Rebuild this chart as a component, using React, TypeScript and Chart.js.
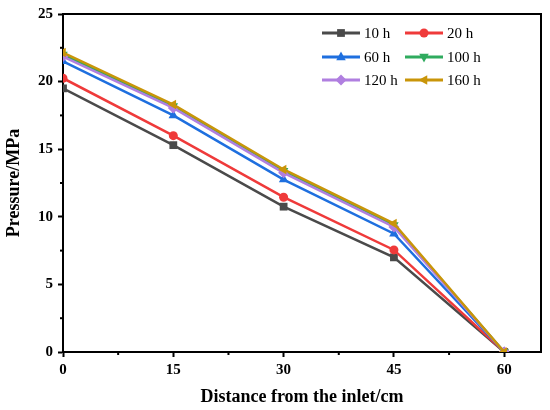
import React, { useEffect, useRef } from "react";
import { Chart, registerables } from "chart.js";

Chart.register(...registerables);

const distances = [0, 15, 30, 45, 60];
const seriesLabels = ["10 h", "20 h", "60 h", "100 h", "120 h", "160 h"];
const p10h = [19.5, 15.3, 10.75, 7.0, 0];
const p20h = [20.25, 16.0, 11.45, 7.55, 0];
const p60h = [21.5, 17.5, 12.75, 8.75, 0];
const p100h = [22.0, 18.2, 13.4, 9.4, 0];
const p120h = [21.85, 18.05, 13.25, 9.25, 0];
const p160h = [22.15, 18.3, 13.5, 9.5, 0];
const xTicks = [0, 15, 30, 45, 60];
const yTicks = [0, 5, 10, 15, 20, 25];
const xMinor = [7.5, 22.5, 37.5, 52.5];
const yMinor = [2.5, 7.5, 12.5, 17.5, 22.5];

const seriesValues = [p10h, p20h, p60h, p100h, p120h, p160h];
const colors = ["#4a4a4a", "#ef3a3a", "#1e6fdf", "#2fab5e", "#b07fe0", "#c99509"];
const styles = ["rect", "circle", "triangle", "triangle", "rectRot", "triangle"];
const rotations = [0, 0, 0, 180, 0, -90];
const radii = [5.5, 4.5, 5.5, 5.5, 5.5, 5.5];

const SERIF = "'Liberation Serif', 'Times New Roman', serif";

function drawMarker(ctx: CanvasRenderingContext2D, style: string, rot: number, x: number, y: number, r: number) {
  ctx.save();
  ctx.translate(x, y);
  ctx.rotate((rot * Math.PI) / 180);
  ctx.beginPath();
  if (style === "rect") {
    const s = Math.SQRT1_2 * r;
    ctx.rect(-s, -s, 2 * s, 2 * s);
  } else if (style === "circle") {
    ctx.arc(0, 0, r, 0, Math.PI * 2);
  } else if (style === "triangle") {
    ctx.moveTo(0, -r);
    ctx.lineTo(r * 0.866, r * 0.5 + 0.5);
    ctx.lineTo(-r * 0.866, r * 0.5 + 0.5);
    ctx.closePath();
  } else if (style === "rectRot") {
    ctx.moveTo(0, -r);
    ctx.lineTo(r, 0);
    ctx.lineTo(0, r);
    ctx.lineTo(-r, 0);
    ctx.closePath();
  }
  ctx.fill();
  ctx.restore();
}

const framePlugin = {
  id: "frameAndLegend",
  afterDraw(chart: any) {
    const ctx: CanvasRenderingContext2D = chart.ctx;
    const { left, right, top, bottom } = chart.chartArea;
    const xs = chart.scales.x;
    const ys = chart.scales.y;
    ctx.save();
    ctx.strokeStyle = "#000";
    ctx.lineWidth = 2;
    ctx.beginPath();
    ctx.moveTo(left, top);
    ctx.lineTo(right, top);
    ctx.lineTo(right, bottom);
    ctx.stroke();
    // minor ticks
    ctx.lineWidth = 2;
    xMinor.forEach((v) => {
      const px = xs.getPixelForValue(v);
      ctx.beginPath();
      ctx.moveTo(px, bottom);
      ctx.lineTo(px, bottom + 3);
      ctx.stroke();
    });
    yMinor.forEach((v) => {
      const py = ys.getPixelForValue(v);
      ctx.beginPath();
      ctx.moveTo(left, py);
      ctx.lineTo(left - 3, py);
      ctx.stroke();
    });
    // legend
    const colX = [322, 405];
    const rowY = [33, 57, 80];
    ctx.font = `15px ${SERIF}`;
    ctx.textBaseline = "middle";
    ctx.textAlign = "left";
    seriesLabels.forEach((lab, i) => {
      const cx = colX[i % 2];
      const cy = rowY[Math.floor(i / 2)];
      ctx.strokeStyle = colors[i];
      ctx.lineWidth = 2.8;
      ctx.beginPath();
      ctx.moveTo(cx, cy);
      ctx.lineTo(cx + 38, cy);
      ctx.stroke();
      ctx.fillStyle = colors[i];
      drawMarker(ctx, styles[i], rotations[i], cx + 19, cy, radii[i]);
      ctx.fillStyle = "#000";
      ctx.fillText(lab, cx + 42, cy + 1);
    });
    ctx.restore();
  },
};

export default function App() {
  const ref = useRef<HTMLCanvasElement | null>(null);
  useEffect(() => {
    document.body.style.margin = "0";
    if (!ref.current) return;
    const datasets = seriesLabels.map((lab, i) => ({
      label: lab,
      data: distances.map((d, j) => ({ x: d, y: seriesValues[i][j] })),
      borderColor: colors[i],
      backgroundColor: colors[i],
      borderWidth: 2.5,
      pointStyle: styles[i] as any,
      rotation: rotations[i],
      pointRadius: radii[i],
      pointBorderWidth: 0,
      pointHoverRadius: radii[i],
      tension: 0,
      order: seriesLabels.length - i,
    }));
    const chart = new Chart(ref.current, {
      type: "line",
      data: { datasets },
      plugins: [framePlugin],
      options: {
        animation: false,
        responsive: false,
        devicePixelRatio: 1,
        layout: { padding: { top: 13, right: 9, left: 0, bottom: 0 } },
        plugins: { legend: { display: false }, tooltip: { enabled: false } },
        scales: {
          x: {
            type: "linear",
            min: 0,
            max: 65,
            afterBuildTicks: (s: any) => {
              s.ticks = xTicks.map((v) => ({ value: v }));
            },
            afterFit: (s: any) => {
              s.height = 58;
            },
            grid: { display: true, drawOnChartArea: false, drawTicks: true, tickLength: 5, tickWidth: 2, tickColor: "#000", color: "#000" },
            border: { display: true, color: "#000", width: 2 },
            ticks: { color: "#000", padding: 4, maxRotation: 0, font: { family: SERIF, size: 15, weight: "bold" } },
            title: {
              display: true,
              text: "Distance from the inlet/cm",
              color: "#000",
              padding: { top: 0, bottom: 2 },
              font: { family: SERIF, size: 18, weight: "bold" },
            },
          },
          y: {
            type: "linear",
            min: 0,
            max: 25,
            afterBuildTicks: (s: any) => {
              s.ticks = yTicks.map((v) => ({ value: v }));
            },
            afterFit: (s: any) => {
              s.width = 63;
            },
            grid: { display: true, drawOnChartArea: false, drawTicks: true, tickLength: 5, tickWidth: 2, tickColor: "#000", color: "#000" },
            border: { display: true, color: "#000", width: 2 },
            ticks: { color: "#000", padding: 5, font: { family: SERIF, size: 15, weight: "bold" } },
            title: {
              display: true,
              text: "Pressure/MPa",
              color: "#000",
              padding: { top: 4, bottom: 0 },
              font: { family: SERIF, size: 18, weight: "bold" },
            },
          },
        },
      },
    });
    return () => chart.destroy();
  }, []);
  return (
    <div style={{ width: 550, height: 410, background: "#fff" }}>
      <canvas ref={ref} width={550} height={410} style={{ display: "block" }} />
    </div>
  );
}
